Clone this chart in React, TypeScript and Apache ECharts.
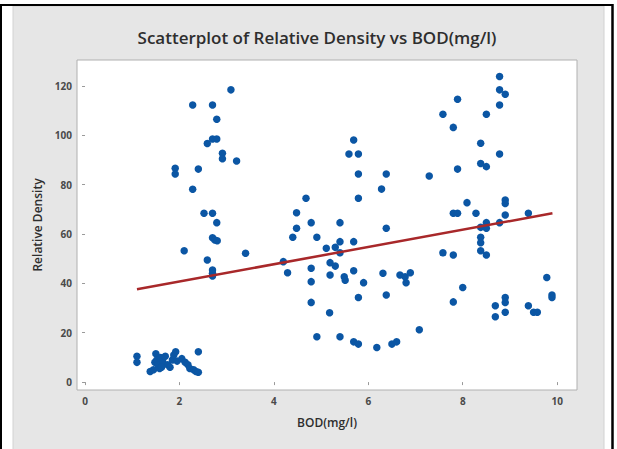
import React, { useEffect, useRef } from "react";
import * as echarts from "echarts";

const bodValues: number[] = [
  1.1, 1.1, 1.38, 1.45, 1.48, 1.5, 1.52, 1.55, 1.58, 1.6, 1.65, 1.7, 1.75, 1.8, 1.85, 1.88, 1.92, 1.95, 2.05, 2.12, 2.18, 2.22, 2.3, 2.35, 2.4, 2.4, 1.62,
  1.91, 1.91, 2.1, 2.28, 2.28, 2.4, 2.52, 2.59, 2.59, 2.7, 2.7, 2.79, 2.79, 2.7, 2.79, 2.7, 2.75, 2.8, 2.7, 2.7, 2.7, 2.91, 2.91, 3.09, 3.21, 3.4,
  4.2, 4.29, 4.4, 4.48, 4.48, 4.68, 4.79, 4.79, 4.79, 4.79, 4.91, 4.91, 5.11, 5.19, 5.19, 5.18, 5.3, 5.3, 5.4, 5.4, 5.4, 5.4, 5.49, 5.51, 5.59, 5.69, 5.69, 5.69, 5.69, 5.79, 5.79, 5.79, 5.79, 5.79, 5.9, 6.18, 6.28, 6.31, 6.38, 6.38, 6.38, 6.5, 6.6, 6.67, 6.78, 6.89, 6.8, 7.08, 7.29,
  7.58, 7.58, 7.8, 7.8, 7.8, 7.8, 7.89, 7.89, 7.89, 8.0, 8.09, 8.28, 8.38, 8.38, 8.38, 8.38, 8.38, 8.38, 8.5, 8.5, 8.5, 8.5, 8.5, 8.69, 8.69, 8.78, 8.78, 8.78, 8.78, 8.78, 8.9, 8.9, 8.9, 8.9, 8.9, 8.9, 8.9, 9.39, 9.39, 9.5, 9.58, 9.78, 9.89, 9.89,
];

const densityValues: number[] = [
  10.5, 8.0, 4.3, 5.0, 8.0, 11.5, 9.0, 7.0, 5.5, 10.0, 8.0, 10.5, 7.0, 6.0, 9.0, 11.0, 12.3, 8.5, 9.5, 8.0, 7.0, 5.5, 5.0, 4.3, 4.0, 12.3, 6.0,
  86.6, 84.3, 53.2, 112.3, 78.1, 86.3, 68.4, 96.7, 49.5, 112.3, 98.5, 98.5, 106.5, 68.4, 64.6, 58.5, 57.6, 57.3, 45.4, 44.1, 43.0, 92.7, 90.5, 118.4, 89.6, 52.2,
  48.8, 44.3, 58.7, 62.3, 68.6, 74.5, 64.6, 46.1, 40.7, 32.3, 58.7, 18.4, 54.2, 48.4, 43.4, 28.1, 54.6, 47.0, 64.6, 56.9, 52.4, 18.4, 42.7, 41.3, 92.4, 98.1, 56.9, 45.1, 16.3, 92.4, 84.3, 74.5, 34.3, 15.4, 40.3, 14.0, 78.2, 44.1, 84.3, 62.3, 35.3, 15.4, 16.3, 43.4, 42.7, 44.3, 40.3, 21.2, 83.5,
  108.5, 52.4, 103.2, 68.4, 51.5, 32.5, 114.6, 86.3, 68.4, 38.3, 72.7, 68.4, 96.8, 88.6, 62.7, 58.7, 56.5, 53.2, 108.5, 87.3, 64.6, 62.3, 51.5, 30.9, 26.5, 123.8, 118.4, 112.3, 92.4, 64.6, 116.6, 73.8, 72.4, 67.7, 34.3, 32.3, 28.3, 68.4, 30.9, 28.3, 28.3, 42.4, 35.3, 34.3,
];

// fitted regression line end points (BOD, density)
const fitBod: number[] = [1.1, 9.9];
const fitDensity: number[] = [37.6, 68.4];

const xTicks: number[] = [0, 2, 4, 6, 8, 10];
const yTicks: number[] = [0, 20, 40, 60, 80, 100, 120];

const titleText = "Scatterplot of Relative Density vs BOD(mg/l)";
const xName = "BOD(mg/l)";
const yName = "Relative Density";

export default function App() {
  const ref = useRef<HTMLDivElement>(null);
  useEffect(() => {
    document.body.style.margin = "0";
    if (!ref.current) return;
    const chart = echarts.init(ref.current, null, { renderer: "svg" });
    const points = bodValues.map((x, i) => [x, densityValues[i]]);
    const fit = fitBod.map((x, i) => [x, fitDensity[i]]);
    const font = "'Open Sans', 'Noto Sans', sans-serif";
    chart.setOption({
      animation: false,
      backgroundColor: "#ffffff",
      graphic: [
        { type: "rect", z: -100, shape: { x: 13, y: 6, width: 591, height: 444 }, style: { fill: "#e6e6e6", stroke: "#d2d2d2", lineWidth: 1 } },
        { type: "line", z: 100, shape: { x1: 0, y1: 5, x2: 613, y2: 5 }, style: { stroke: "#000", lineWidth: 2 } },
        { type: "line", z: 100, shape: { x1: 1, y1: 5, x2: 1, y2: 449 }, style: { stroke: "#000", lineWidth: 2 } },
        { type: "line", z: 100, shape: { x1: 612.5, y1: 4, x2: 612.5, y2: 449 }, style: { stroke: "#000", lineWidth: 2.5 } },
      ],
      title: {
        text: titleText,
        left: 312,
        top: 24,
        textAlign: "center",
        textStyle: { fontFamily: font, fontSize: 17, fontWeight: 600, color: "#2e2e2e" },
      },
      grid: {
        left: 77,
        top: 60,
        width: 500,
        height: 330,
        show: true,
        backgroundColor: "#ffffff",
        borderColor: "#b0b0b0",
        borderWidth: 1,
      },
      xAxis: {
        type: "value",
        min: -0.17,
        max: 10.42,
        name: xName,
        nameLocation: "middle",
        nameGap: 26,
        nameTextStyle: { fontFamily: font, fontSize: 12, fontWeight: 600, color: "#2e2e2e" },
        axisLine: { show: false },
        splitLine: { show: false },
        axisTick: { show: true, length: 3, customValues: xTicks, lineStyle: { color: "#9a9a9a" } },
        axisLabel: { customValues: xTicks, margin: 6, fontFamily: font, fontSize: 10, fontWeight: "bold", color: "#4a4a4a" },
      },
      yAxis: {
        type: "value",
        min: -3.2,
        max: 130.5,
        name: yName,
        nameLocation: "middle",
        nameGap: 31,
        nameTextStyle: { fontFamily: font, fontSize: 12, fontWeight: 600, color: "#2e2e2e" },
        axisLine: { show: false },
        splitLine: { show: false },
        axisTick: { show: true, length: 3, customValues: yTicks, lineStyle: { color: "#9a9a9a" } },
        axisLabel: { customValues: yTicks, margin: 5, fontFamily: font, fontSize: 10, fontWeight: "bold", color: "#4a4a4a" },
      },
      series: [
        {
          type: "scatter",
          data: points,
          symbol: "circle",
          symbolSize: 7.5,
          itemStyle: { color: "#0b56a4", opacity: 1 },
          z: 2,
        },
        {
          type: "line",
          data: fit,
          symbol: "none",
          lineStyle: { color: "#a8282a", width: 2.5 },
          z: 3,
        },
      ],
    });
    return () => chart.dispose();
  }, []);
  return <div ref={ref} style={{ width: 617, height: 449 }} />;
}
